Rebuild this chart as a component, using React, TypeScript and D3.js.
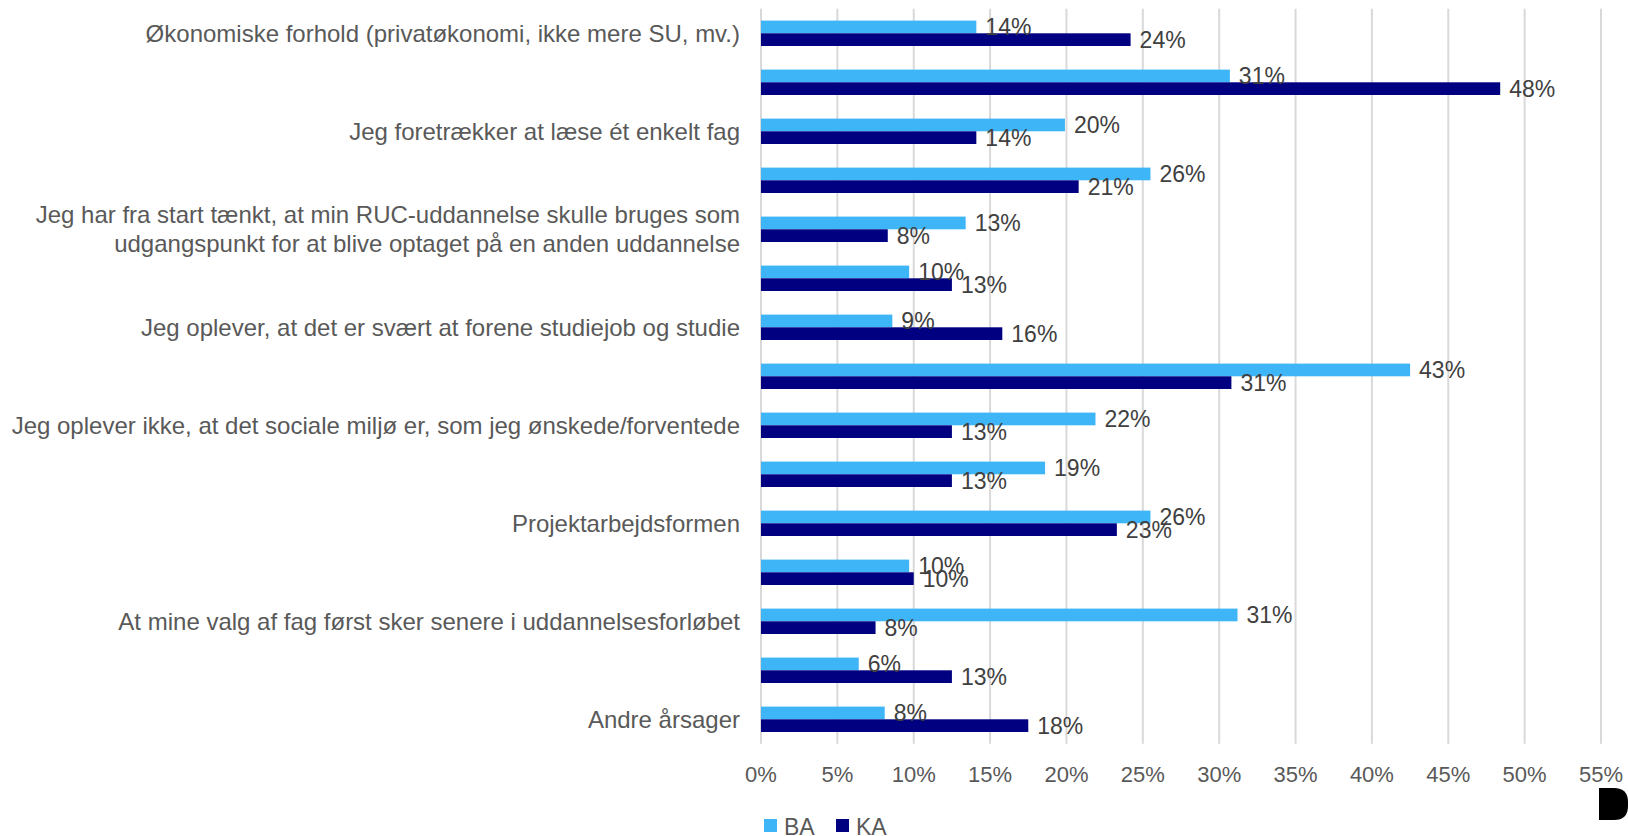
import React from "react";
import * as d3 from "d3";

const categories: string[] = [
  "Økonomiske forhold (privatøkonomi, ikke mere SU, mv.)",
  "",
  "Jeg foretrækker at læse ét enkelt fag",
  "",
  "Jeg har fra start tænkt, at min RUC-uddannelse skulle bruges som\nudgangspunkt for at blive optaget på en anden uddannelse",
  "",
  "Jeg oplever, at det er svært at forene studiejob og studie",
  "",
  "Jeg oplever ikke, at det sociale miljø er, som jeg ønskede/forventede",
  "",
  "Projektarbejdsformen",
  "",
  "At mine valg af fag først sker senere i uddannelsesforløbet",
  "",
  "Andre årsager",
];

const baValues: number[] = [14.1, 30.7, 19.9, 25.5, 13.4, 9.7, 8.6, 42.5, 21.9, 18.6, 25.5, 9.7, 31.2, 6.4, 8.1];
const kaValues: number[] = [24.2, 48.4, 14.1, 20.8, 8.3, 12.5, 15.8, 30.8, 12.5, 12.5, 23.3, 10.0, 7.5, 12.5, 17.5];

const seriesNames = ["BA", "KA"];
const seriesColors = ["#3DB5F6", "#000080"];
const xTicks: number[] = [0, 5, 10, 15, 20, 25, 30, 35, 40, 45, 50, 55];

const FONT = "'Liberation Sans', Arial, sans-serif";

export default function App() {
  const W = 1628;
  const H = 836;
  const x = d3.scaleLinear().domain([0, 55]).range([761, 1601]);
  const y = d3
    .scaleBand<number>()
    .domain(d3.range(categories.length))
    .range([8.8, 743.8])
    .paddingInner(0)
    .paddingOuter(0);
  const barH = 12.7;
  const series = [baValues, kaValues];

  return (
    <svg
      width={W}
      height={H}
      style={{ position: "absolute", left: 0, top: 0, background: "#fff" }}
      fontFamily={FONT}
    >
      {/* gridlines */}
      {xTicks.map((t) => (
        <line
          key={"g" + t}
          x1={x(t)}
          x2={x(t)}
          y1={8.8}
          y2={743.8}
          stroke="#D9D9D9"
          strokeWidth={2}
        />
      ))}
      {/* bars */}
      {categories.map((_, i) => {
        const c = (y(i) as number) + y.bandwidth() / 2;
        return series.map((vals, s) => {
          const top = c - barH + s * barH;
          return (
            <rect
              key={`b${i}-${s}`}
              x={x(0)}
              y={top}
              width={x(vals[i]) - x(0)}
              height={barH}
              fill={seriesColors[s]}
            />
          );
        });
      })}
      {/* data labels */}
      {categories.map((_, i) => {
        const c = (y(i) as number) + y.bandwidth() / 2;
        return series.map((vals, s) => {
          const mid = c - barH / 2 + s * barH;
          return (
            <text
              key={`l${i}-${s}`}
              x={x(vals[i]) + 9}
              y={mid + 8}
              fontSize={23}
              fill="#404040"
            >
              {Math.round(vals[i]) + "%"}
            </text>
          );
        });
      })}
      {/* category labels */}
      {categories.map((name, i) => {
        if (!name) return null;
        const c = (y(i) as number) + y.bandwidth() / 2;
        const lines = name.split("\n");
        const lh = 29;
        return (
          <text key={"c" + i} textAnchor="end" fontSize={24} fill="#595959">
            {lines.map((ln, k) => (
              <tspan
                key={k}
                x={740}
                y={c + 8.4 + (k - (lines.length - 1) / 2) * lh}
              >
                {ln}
              </tspan>
            ))}
          </text>
        );
      })}
      {/* x tick labels */}
      {xTicks.map((t) => (
        <text
          key={"t" + t}
          x={x(t)}
          y={782}
          textAnchor="middle"
          fontSize={22}
          fill="#595959"
        >
          {t + "%"}
        </text>
      ))}
      {/* legend */}
      {seriesNames.map((n, s) => (
        <g key={"lg" + n} transform={`translate(${764 + s * 72},0)`}>
          <rect x={0} y={819} width={13} height={13} fill={seriesColors[s]} />
          <text x={20} y={834.5} fontSize={23} fill="#595959">
            {n}
          </text>
        </g>
      ))}
      {/* black artifact at bottom right */}
      <path d="M1599,788 H1614 Q1628,788 1628,802 V806 Q1628,820 1614,820 H1599 Z" fill="#000" />
    </svg>
  );
}
